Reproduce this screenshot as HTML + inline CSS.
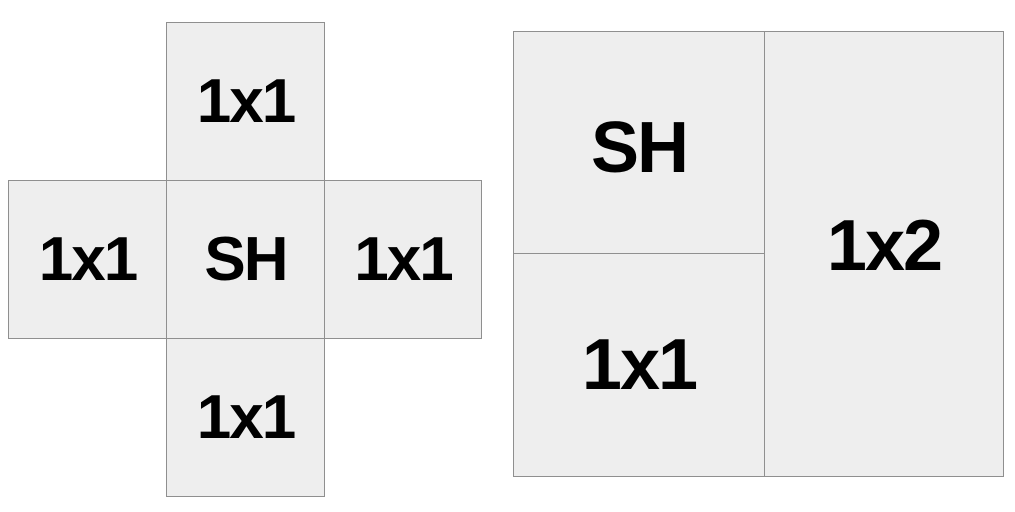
<!DOCTYPE html>
<html><head><style>
body{margin:0;width:1015px;height:512px;background:#fff;position:relative;overflow:hidden;font-family:"Liberation Sans",sans-serif;font-weight:bold}
.b{position:absolute;box-sizing:border-box;background:#eeeeee;border:1.5px solid #8f8f8f;display:flex;align-items:center;justify-content:center;color:#000;letter-spacing:-2px}
.s{font-size:62px}
.l{font-size:72px}
</style></head><body>
<div class="b s" style="left:166px;top:22px;width:159px;height:159px">1x1</div>
<div class="b s" style="left:8px;top:180px;width:159px;height:159px">1x1</div>
<div class="b s" style="left:166px;top:180px;width:159px;height:159px">SH</div>
<div class="b s" style="left:324px;top:180px;width:158px;height:159px">1x1</div>
<div class="b s" style="left:166px;top:338px;width:159px;height:159px">1x1</div>
<div class="b l" style="left:513px;top:31px;width:252px;height:224px;padding-top:10px">SH</div>
<div class="b l" style="left:513px;top:253px;width:252px;height:224px">1x1</div>
<div class="b l" style="left:764px;top:31px;width:240px;height:446px;padding-bottom:16px">1x2</div>
</body></html>
